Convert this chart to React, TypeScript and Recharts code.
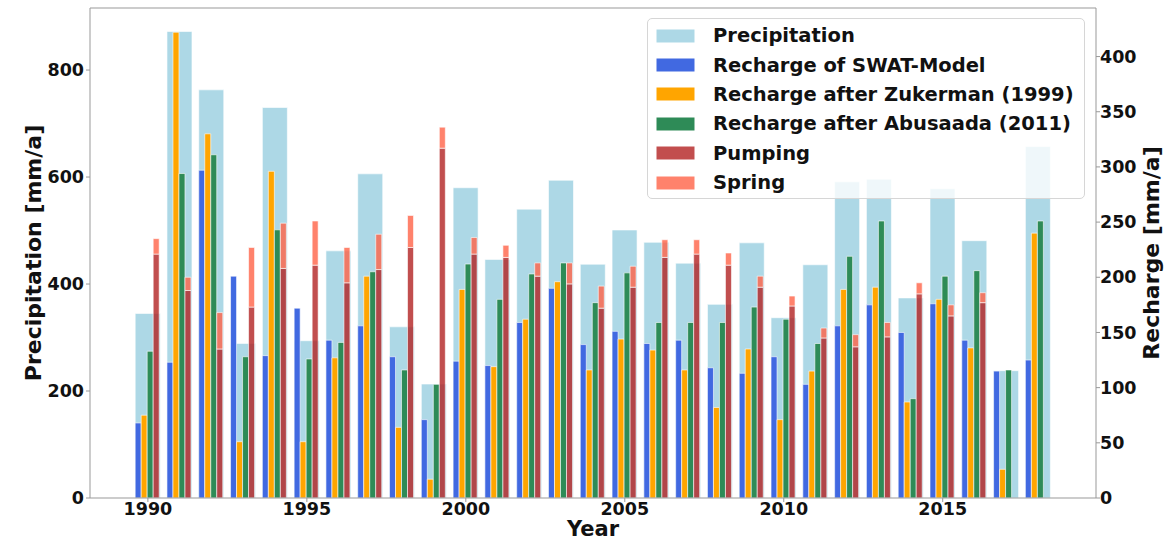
import React from "react";
import {
  ComposedChart,
  Bar,
  XAxis,
  YAxis,
  Legend,
  ReferenceLine,
} from "recharts";

const years = [
  1990, 1991, 1992, 1993, 1994, 1995, 1996, 1997, 1998, 1999,
  2000, 2001, 2002, 2003, 2004, 2005, 2006, 2007, 2008, 2009,
  2010, 2011, 2012, 2013, 2014, 2015, 2016, 2017, 2018,
];

// mm/a, left axis
const precipitation = [
  345, 872, 763, 289, 730, 294, 462, 606, 320, 213,
  580, 446, 540, 594, 437, 501, 478, 439, 362, 477,
  337, 436, 591, 596, 374, 578, 481, 238, 657,
];

// mm/a, right axis
const swatModel = [
  68, 123, 297, 201, 129, 172, 143, 156, 128, 71,
  124, 120, 159, 190, 139, 151, 140, 143, 118, 113,
  128, 103, 156, 175, 150, 176, 143, 115, 125,
];

const zukerman = [
  75, 422, 330, 51, 296, 51, 127, 201, 64, 17,
  189, 119, 162, 196, 116, 144, 134, 116, 82, 135,
  71, 115, 189, 191, 87, 180, 136, 26, 240,
];

const abusaada = [
  133, 294, 311, 128, 243, 126, 141, 205, 116, 103,
  212, 180, 203, 213, 177, 204, 159, 159, 159, 173,
  162, 140, 219, 251, 90, 201, 206, 116, 251,
];

const pumping = [
  221, 188, 135, 173, 208, 211, 195, 207, 227, 317,
  221, 218, 201, 194, 172, 191, 218, 221, 211, 191,
  174, 145, 137, 146, 185, 165, 177, null, null,
];

// stacked on top of pumping
const spring = [
  14, 12, 33, 54, 41, 40, 32, 32, 29, 19,
  15, 11, 12, 19, 20, 19, 16, 13, 11, 10,
  9, 9, 11, 13, 10, 10, 9, null, null,
];

const xTicks = [1990, 1995, 2000, 2005, 2010, 2015];
const leftTicks = [0, 200, 400, 600, 800];
const rightTicks = [0, 50, 100, 150, 200, 250, 300, 350, 400];

const series = [
  { key: "precip", name: "Precipitation", color: "#ADD8E6" },
  { key: "swat", name: "Recharge of SWAT-Model", color: "#4169E1" },
  { key: "zuk", name: "Recharge after Zukerman (1999)", color: "#FFA500" },
  { key: "abu", name: "Recharge after Abusaada (2011)", color: "#2E8B57" },
  { key: "pump", name: "Pumping", color: "#C24E4E" },
  { key: "spring", name: "Spring", color: "#FF826C" },
];

const data = years.map((year, i) => ({
  year,
  precip: precipitation[i],
  swat: swatModel[i],
  zuk: zukerman[i],
  abu: abusaada[i],
  pump: pumping[i],
  spring: spring[i],
}));

const FONT = "'DejaVu Sans', Verdana, sans-serif";
const tickStyle = { fill: "#111", fontSize: 17.5, fontWeight: 700, fontFamily: FONT };
const axisColor = "#999";

const YTitle = ({ viewBox, text, posX }: any) => {
  const y = viewBox ? viewBox.y + viewBox.height / 2 : 253;
  return (
    <text
      x={posX}
      y={y}
      transform={`rotate(-90, ${posX}, ${y})`}
      textAnchor="middle"
      dominantBaseline="central"
      style={{ fontSize: 22, fontWeight: 700, fontFamily: FONT, fill: "#111" }}
    >
      {text}
    </text>
  );
};

const XTitle = ({ viewBox }: any) => {
  const cx = viewBox ? viewBox.x + viewBox.width / 2 : 593;
  return (
    <text
      x={cx}
      y={536}
      textAnchor="middle"
      style={{ fontSize: 21, fontWeight: 700, fontFamily: FONT, fill: "#111" }}
    >
      Year
    </text>
  );
};

const LegendBox = () => (
  <div
    style={{
      boxSizing: "border-box",
      width: 438,
      height: 181,
      padding: "2px 0 0 8px",
      background: "rgba(255,255,255,0.8)",
      border: "1px solid #d6d6d6",
      borderRadius: 5,
      fontFamily: FONT,
      fontWeight: 700,
      fontSize: 19.5,
      color: "#111",
    }}
  >
    {series.map((s) => (
      <div key={s.key} style={{ display: "flex", alignItems: "center", height: 29.4 }}>
        <span
          style={{
            display: "inline-block",
            width: 39,
            height: 14,
            background: s.color,
            boxShadow: "inset 0 0 0 0.5px #fff",
            marginRight: 18,
          }}
        />
        <span style={{ whiteSpace: "nowrap" }}>{s.name}</span>
      </div>
    ))}
  </div>
);

export default function App() {
  return (
    <div style={{ position: "absolute", left: 0, top: 0, width: 1173, height: 540, background: "#fff" }}>
      <ComposedChart
        width={1173}
        height={540}
        data={data}
        margin={{ top: 8, right: 0, bottom: 0, left: 0 }}
        barCategoryGap="10%"
        barGap={0}
      >
        <XAxis
          xAxisId="p"
          dataKey="year"
          ticks={xTicks}
          interval={0}
          padding={{ left: 42, right: 42 }}
          height={42}
          tick={tickStyle}
          tickSize={4}
          tickMargin={1}
          stroke={axisColor}
          label={<XTitle />}
        />
        <XAxis
          xAxisId="r"
          dataKey="year"
          hide
          padding={{ left: 42, right: 42 }}
        />
        <YAxis
          yAxisId="left"
          domain={[0, 916]}
          ticks={leftTicks}
          width={90}
          tick={tickStyle}
          tickSize={4}
          tickMargin={2}
          stroke={axisColor}
          label={<YTitle text="Precipitation [mm/a]" posX={33} />}
        />
        <YAxis
          yAxisId="right"
          orientation="right"
          domain={[0, 444]}
          ticks={rightTicks}
          width={77}
          tick={tickStyle}
          tickSize={4}
          tickMargin={0}
          stroke={axisColor}
          label={<YTitle text="Recharge [mm/a]" posX={1151} />}
        />
        <Bar
          xAxisId="p"
          yAxisId="left"
          dataKey="precip"
          name="Precipitation"
          fill="#ADD8E6"
          stroke="#fff"
          strokeWidth={0.6}
          isAnimationActive={false}
        />
        <Bar
          xAxisId="r"
          yAxisId="right"
          dataKey="swat"
          name="Recharge of SWAT-Model"
          stackId="a"
          fill="#4169E1"
          stroke="#fff"
          strokeWidth={0.6}
          isAnimationActive={false}
        />
        <Bar
          xAxisId="r"
          yAxisId="right"
          dataKey="zuk"
          name="Recharge after Zukerman (1999)"
          stackId="b"
          fill="#FFA500"
          stroke="#fff"
          strokeWidth={0.6}
          isAnimationActive={false}
        />
        <Bar
          xAxisId="r"
          yAxisId="right"
          dataKey="abu"
          name="Recharge after Abusaada (2011)"
          stackId="c"
          fill="#2E8B57"
          stroke="#fff"
          strokeWidth={0.6}
          isAnimationActive={false}
        />
        <Bar
          xAxisId="r"
          yAxisId="right"
          dataKey="pump"
          name="Pumping"
          stackId="d"
          fill="#B22222"
          fillOpacity={0.8}
          stroke="#fff"
          strokeWidth={0.6}
          isAnimationActive={false}
        />
        <Bar
          xAxisId="r"
          yAxisId="right"
          dataKey="spring"
          name="Spring"
          stackId="d"
          fill="#FF6347"
          fillOpacity={0.8}
          stroke="#fff"
          strokeWidth={0.6}
          isAnimationActive={false}
        />
        <ReferenceLine xAxisId="p" yAxisId="left" y={916} stroke={axisColor} />
        <Legend
          layout="horizontal"
          verticalAlign="middle"
          align="center"
          content={<LegendBox />}
          wrapperStyle={{ left: 647, top: 18, width: 438, height: 181 }}
        />
      </ComposedChart>
    </div>
  );
}
